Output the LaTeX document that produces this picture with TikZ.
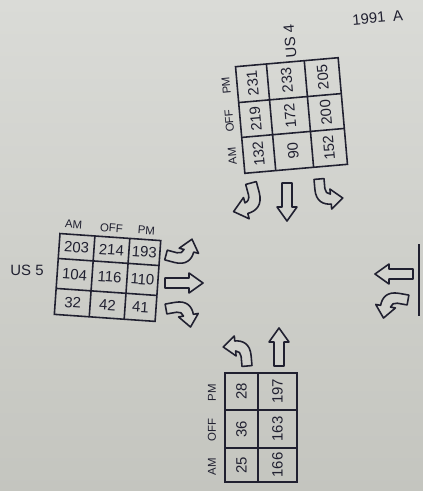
\documentclass[tikz,border=0pt]{standalone}
\usepackage{fontspec}
\setmainfont{Liberation Sans}
\definecolor{papertop}{RGB}{218,219,215}
\definecolor{paperbot}{RGB}{196,197,191}
\definecolor{paper}{RGB}{210,211,206}
\definecolor{ink}{RGB}{32,32,48}
\begin{document}
\begin{tikzpicture}[x=0.02cm, y=-0.02cm,
  grid/.style={draw=ink, line width=0.9pt},
  val/.style={text=ink, font=\fontsize{8.5}{9}\selectfont, inner sep=0pt},
  lab/.style={text=ink, font=\fontsize{6.5}{7}\selectfont, inner sep=0pt},
  ttl/.style={text=ink, font=\fontsize{8.5}{9}\selectfont, inner sep=0pt},
  arr/.style={draw=ink, line width=0.9pt, line join=round, fill=paper},
  carrow/.pic={\path[arr] (-5,0) -- (-5,-10) .. controls (-5,-22) and (2,-26) .. (10,-26) -- (10,-31) -- (22,-21) -- (10,-11) -- (10,-16) .. controls (7,-16) and (5,-13) .. (5,-10) -- (5,0) -- cycle;},
  sarrow/.pic={\path[arr] (-5,0) -- (-5,-24) -- (-10,-24) -- (0,-38) -- (10,-24) -- (5,-24) -- (5,0) -- cycle;}
]
\useasboundingbox (0,0) rectangle (423,491);
\shade[top color=papertop, bottom color=paperbot] (0,0) rectangle (423,491);

% date
\node[ttl, anchor=west, rotate=5] (date) at (352,20) {1991\enspace A};

% ---------- US 4 ----------
\node[ttl, rotate=95] (us4) at (290,41) {US 4};
\begin{scope}[rotate around={5:(291.5,115.5)}]
  \draw[grid] (240,62) rectangle (343,169);
  \draw[grid] (271,62) -- (271,169) (309,62) -- (309,169)
              (240,98) -- (343,98) (240,133) -- (343,133);
  \node[lab, rotate=95] (u4pm)  at (229,80)    {PM};
  \node[lab, rotate=95] (u4off) at (229,115.5) {OFF};
  \node[lab, rotate=95] (u4am)  at (229,151)   {AM};
  \node[val, rotate=95] (u4a1) at (255.5,80)    {231};
  \node[val, rotate=95] (u4a2) at (255.5,115.5) {219};
  \node[val, rotate=95] (u4a3) at (255.5,151)   {132};
  \node[val, rotate=95] (u4b1) at (290,80)      {233};
  \node[val, rotate=95] (u4b2) at (290,115.5)   {172};
  \node[val, rotate=95] (u4b3) at (290,151)     {90};
  \node[val, rotate=95] (u4c1) at (326,80)      {205};
  \node[val, rotate=95] (u4c2) at (326,115.5)   {200};
  \node[val, rotate=95] (u4c3) at (326,151)     {152};
\end{scope}
\pic[rotate=195, scale=1.1] at (251,183) {carrow};
\pic[rotate=180] at (287,183) {sarrow};
\pic[rotate=5, yscale=-1] at (319,179) {carrow};

% ---------- US 5 ----------
\node[ttl] (us5) at (27,270) {US 5};
\begin{scope}[rotate around={-4:(108,278)}]
  \draw[grid] (57,237) rectangle (158,318);
  \draw[grid] (92,237) -- (92,318) (127,237) -- (127,318)
              (57,262) -- (158,262) (57,292) -- (158,292);
  \node[lab, rotate=-4] (u5am)  at (70,227)  {AM};
  \node[lab, rotate=-4] (u5off) at (108,228) {OFF};
  \node[lab, rotate=-4] (u5pm)  at (143,228) {PM};
  \node[val, rotate=-4] (u5a1) at (74.5,249.5)  {203};
  \node[val, rotate=-4] (u5a2) at (109.5,249.5) {214};
  \node[val, rotate=-4] (u5a3) at (142.5,249.5) {193};
  \node[val, rotate=-4] (u5b1) at (74.5,277)    {104};
  \node[val, rotate=-4] (u5b2) at (109.5,277)   {116};
  \node[val, rotate=-4] (u5b3) at (142.5,277)   {110};
  \node[val, rotate=-4] (u5c1) at (74.5,305)    {32};
  \node[val, rotate=-4] (u5c2) at (109.5,305)   {42};
  \node[val, rotate=-4] (u5c3) at (142.5,305)   {41};
\end{scope}
\pic[rotate=-105, xscale=-1] at (166,255) {carrow};
\pic[rotate=-90] at (165,283) {sarrow};
\pic[rotate=-80] at (166,309) {carrow};

% ---------- bottom approach ----------
\draw[grid] (225,373) rectangle (297,482);
\draw[grid] (258,373) -- (258,482) (225,410) -- (297,410) (225,448) -- (297,448);
\node[lab, rotate=90] (bpm)  at (212,393) {PM};
\node[lab, rotate=90] (boff) at (212,430) {OFF};
\node[lab, rotate=90] (bam)  at (212,467) {AM};
\node[val, rotate=90] (ba1) at (241.5,391.5) {28};
\node[val, rotate=90] (ba2) at (241.5,429)   {36};
\node[val, rotate=90] (ba3) at (241.5,465)   {25};
\node[val, rotate=90] (bb1) at (277.5,391.5) {197};
\node[val, rotate=90] (bb2) at (277.5,429)   {163};
\node[val, rotate=90] (bb3) at (277.5,465)   {166};
\pic[rotate=5, xscale=-1] at (247,366) {carrow};
\pic at (279,366) {sarrow};

% ---------- right edge ----------
\draw[grid] (419,244) -- (419,316);
\pic[rotate=90] at (413,274) {sarrow};
\pic[rotate=80, xscale=-1] at (408,300) {carrow};
\end{tikzpicture}
\end{document}
